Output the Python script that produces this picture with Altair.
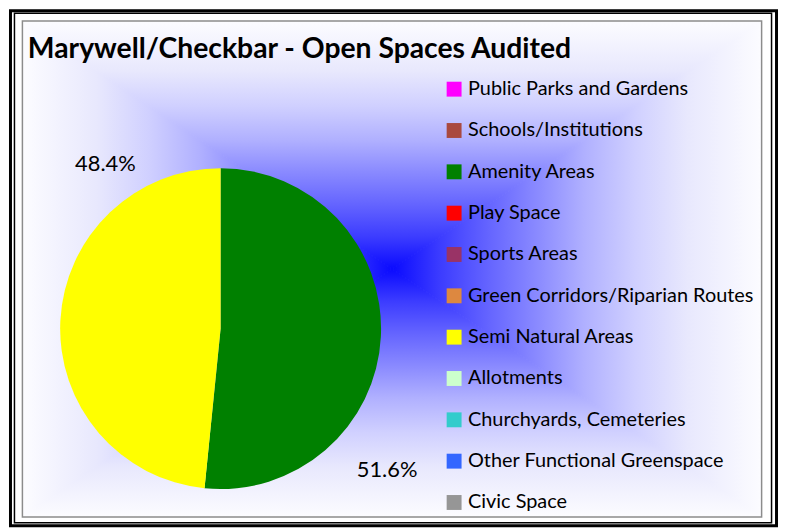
import altair as alt
import pandas as pd

categories = [
    "Public Parks and Gardens",
    "Schools/Institutions",
    "Amenity Areas",
    "Play Space",
    "Sports Areas",
    "Green Corridors/Riparian Routes",
    "Semi Natural Areas",
    "Allotments",
    "Churchyards, Cemeteries",
    "Other Functional Greenspace",
    "Civic Space",
]
values = [0, 0, 51.6, 0, 0, 0, 48.4, 0, 0, 0, 0]
colors = [
    "#FF00FF", "#A9493F", "#008000", "#FF0000", "#993366", "#DD8840",
    "#FFFF00", "#CCFFCC", "#33CCCC", "#3366FF", "#969696",
]
title_text = "Marywell/Checkbar - Open Spaces Audited"

df = pd.DataFrame({"cat": categories, "value": values, "idx": list(range(len(categories)))})

FONT = "Lato"
W, H = 776, 522
one = alt.Data(values=[{}])

# background rectangular ("from centre") gradient geometry
X0, X1, Y0, Y1 = 15, 758, 12, 510
CX, CY = 386.5, 261
STOPS = [
    (0.0, "#0a0aff"), (0.13, "#3c3cff"), (0.26, "#6464ff"), (0.40, "#8c8cff"),
    (0.52, "#b0b0ff"), (0.66, "#d0d0ff"), (0.80, "#e8e8fd"), (1.0, "#fcfcff"),
]


def lin(x1, y1, x2, y2):
    return {"gradient": "linear", "x1": x1, "y1": y1, "x2": x2, "y2": y2,
            "stops": [{"offset": o, "color": c} for o, c in STOPS]}


def tri_v(pts, g):
    return alt.Chart(alt.Data(values=pts)).mark_area(
        orient="vertical", fill=g, stroke=g, strokeWidth=1).encode(
        x=alt.X("a:Q", scale=None), y=alt.Y("b:Q", scale=None), y2="b2:Q")


def tri_h(pts, g):
    return alt.Chart(alt.Data(values=pts)).mark_area(
        orient="horizontal", fill=g, stroke=g, strokeWidth=1).encode(
        y=alt.Y("a:Q", scale=None), x=alt.X("b:Q", scale=None), x2="b2:Q")


top = tri_v([{"a": X0, "b": Y0, "b2": Y0}, {"a": CX, "b": Y0, "b2": CY}, {"a": X1, "b": Y0, "b2": Y0}],
            lin(0, 1, 0, 0))
bottom = tri_v([{"a": X0, "b": Y1, "b2": Y1}, {"a": CX, "b": CY, "b2": Y1}, {"a": X1, "b": Y1, "b2": Y1}],
               lin(0, 0, 0, 1))
left = tri_h([{"a": Y0, "b": X0, "b2": X0}, {"a": CY, "b": X0, "b2": CX}, {"a": Y1, "b": X0, "b2": X0}],
             lin(1, 0, 0, 0))
right = tri_h([{"a": Y0, "b": X1, "b2": X1}, {"a": CY, "b": CX, "b2": X1}, {"a": Y1, "b": X1, "b2": X1}],
              lin(0, 0, 1, 0))

outer = alt.Chart(one).mark_rect(fill="white", stroke="black", strokeWidth=3).encode(
    x=alt.value(2.5), x2=alt.value(773.5), y=alt.value(1), y2=alt.value(519.5))
inner = alt.Chart(one).mark_rect(fill="white", stroke="black", strokeWidth=1.5).encode(
    x=alt.value(6.5), x2=alt.value(768.5), y=alt.value(3.5), y2=alt.value(516.5))
gray = alt.Chart(one).mark_rect(fill=None, stroke="#8c8c8c", strokeWidth=1.5).encode(
    x=alt.value(14.5), x2=alt.value(758.5), y=alt.value(11.5), y2=alt.value(510.5))

title = alt.Chart(one).mark_text(
    text=title_text, font=FONT, fontSize=28.5, fontWeight="bold", align="left",
    baseline="alphabetic", color="black").encode(x=alt.value(20), y=alt.value(49))

pie = alt.Chart(df).mark_arc(radius=161.5, stroke=None).encode(
    theta=alt.Theta("value:Q", stack=True),
    order=alt.Order("idx:Q"),
    color=alt.Color(
        "cat:N",
        scale=alt.Scale(domain=categories, range=colors),
        legend=alt.Legend(
            title=None, orient="none", legendX=439, legendY=70,
            symbolType="square", symbolSize=225, symbolStrokeWidth=0,
            labelFont=FONT, labelFontSize=20, labelColor="black",
            rowPadding=21.6, labelOffset=4, labelLimit=400,
        ),
    ),
    x=alt.value(214), y=alt.value(321),
)

labels = alt.Chart(df).transform_filter("datum.value > 0").transform_joinaggregate(
    total="sum(value)").transform_calculate(
    pct="format(datum.value / datum.total, '.1%')",
    lx="datum.cat == 'Amenity Areas' ? 381.5 : 98",
    ly="datum.cat == 'Amenity Areas' ? 463 : 155",
).mark_text(font=FONT, fontSize=22, align="center", baseline="middle", color="black").encode(
    x=alt.X("lx:Q", scale=None), y=alt.Y("ly:Q", scale=None), text="pct:N")

chart = alt.layer(outer, inner, top, bottom, left, right, gray, title, pie, labels).properties(
    width=W, height=H, padding=0, autosize=alt.AutoSizeParams(type="none")
).configure_view(stroke=None)

chart.save("out.html", embed_options={"renderer": "svg", "actions": False})
